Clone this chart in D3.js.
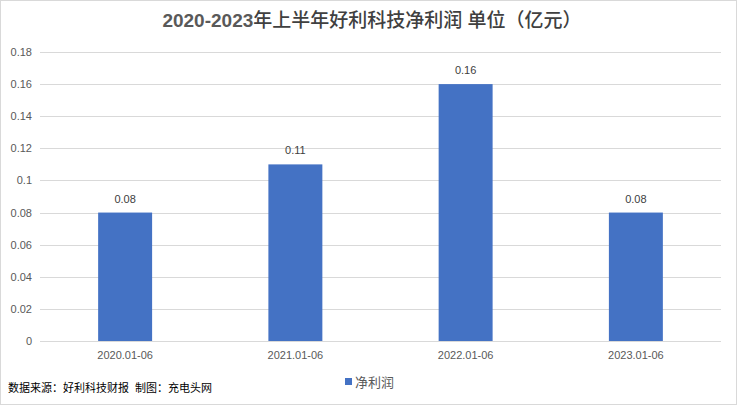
<!DOCTYPE html>
<html><head><meta charset="utf-8">
<script src="https://cdn.jsdelivr.net/npm/d3@7"></script>
<style>body{margin:0;background:#fff}svg{display:block}text{white-space:pre}</style>
</head><body>
<svg id="c" width="737" height="405"></svg>
<script>
const categories = ["2020.01-06","2021.01-06","2022.01-06","2023.01-06"];
const values = [0.08,0.11,0.16,0.08];
const yTicks = [0,0.02,0.04,0.06,0.08,0.1,0.12,0.14,0.16,0.18];
const seriesName = "净利润";
const titleYears = "2020-2023";
const titleRest = "年上半年好利科技净利润 单位（亿元）";
const source = "数据来源：好利科技财报  制图：充电头网";

(function(){
const svg = d3.select("#c");
const W=737,H=405;
const font = "'Liberation Sans','Noto Sans CJK SC',sans-serif";
svg.append("rect").attr("x",0.5).attr("y",0.5).attr("width",W-1).attr("height",H-1)
  .attr("fill","#fff").attr("stroke","#d9d9d9");

const pl=40,pr=721,pt=52,pb=341;
const x=d3.scaleBand().domain(categories).range([pl,pr]).paddingInner(0.683).paddingOuter(0.3415);
const y=d3.scaleLinear().domain([0,0.18]).range([pb,pt]);

const g=svg.append("g");
g.selectAll("line.grid").data(yTicks).join("line")
  .attr("x1",pl).attr("x2",pr).attr("y1",d=>Math.round(y(d))+0.5).attr("y2",d=>Math.round(y(d))+0.5)
  .attr("stroke","#d9d9d9").attr("stroke-width",1);

const ya=d3.axisLeft(y).tickValues(yTicks).tickSize(0).tickPadding(8).tickFormat(d=>String(+d.toFixed(2)));
const yg=svg.append("g").attr("transform",`translate(${pl},0)`).call(ya);
yg.select(".domain").remove();
yg.selectAll("text").attr("font-family",font).attr("font-size",11).attr("fill","#595959");

g.selectAll("rect.bar").data(values).join("rect")
  .attr("x",(d,i)=>x(categories[i])).attr("width",x.bandwidth())
  .attr("y",d=>y(d)).attr("height",d=>pb-y(d)).attr("fill","#4472C4");

g.selectAll("text.lbl").data(values).join("text")
  .attr("x",(d,i)=>x(categories[i])+x.bandwidth()/2).attr("y",d=>y(d)-10)
  .attr("text-anchor","middle").attr("font-family",font).attr("font-size",11).attr("fill","#404040")
  .text(d=>d);

const xa=d3.axisBottom(x).tickSize(0).tickPadding(10);
const xg=svg.append("g").attr("transform",`translate(0,${pb})`).call(xa);
xg.select(".domain").remove();
xg.selectAll("text").attr("font-family",font).attr("font-size",11).attr("fill","#595959");

const t=svg.append("text").attr("x",372).attr("y",27).attr("text-anchor","middle")
  .attr("font-family",font).attr("font-size",19).attr("fill","#595959");
t.append("tspan").attr("font-weight","bold").text(titleYears);
t.append("tspan").attr("font-weight","500").attr("fill","#404040").text(titleRest);

svg.append("rect").attr("x",345).attr("y",378).attr("width",7).attr("height",7).attr("fill","#4472C4");
svg.append("text").attr("x",355).attr("y",387).attr("font-family",font).attr("font-size",13).attr("fill","#595959").text(seriesName);

svg.append("text").attr("x",8).attr("y",392).attr("font-family",font).attr("font-size",11).attr("fill","#000").text(source);
})();
</script>
</body></html>
